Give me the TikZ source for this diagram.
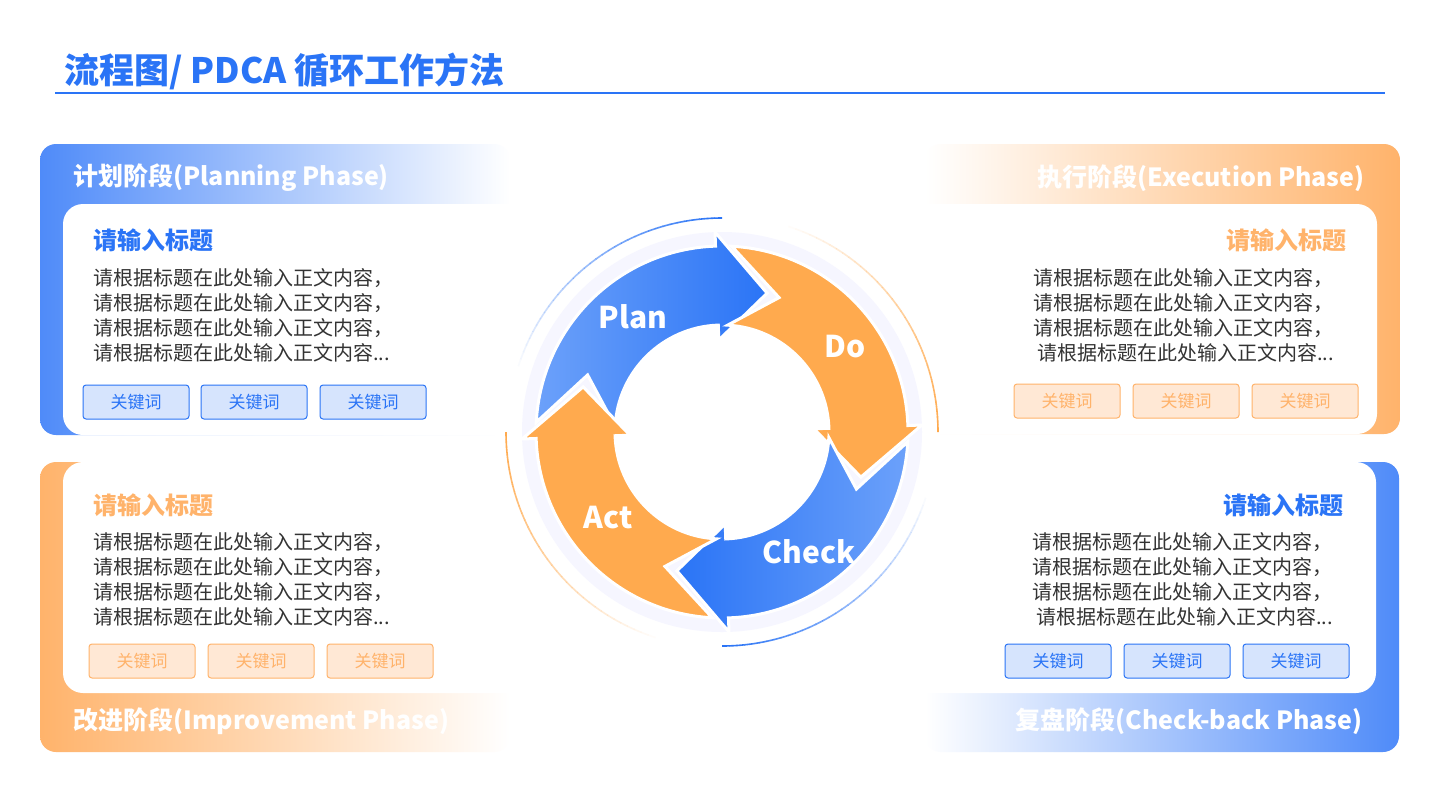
\documentclass[tikz,border=0pt]{standalone}
\usepackage{fontspec}
\setmainfont{Noto Sans CJK SC}
\definecolor{bl}{HTML}{2A74F6}
\definecolor{blL}{HTML}{6CA1FA}
\definecolor{blP}{HTML}{4F8BF9}
\definecolor{or}{HTML}{FFAA4E}
\definecolor{orP}{HTML}{FFB36B}
\definecolor{txt}{HTML}{333333}
\definecolor{kwB}{HTML}{D6E4FD}
\definecolor{kwO}{HTML}{FFE8D5}
\begin{document}
\begin{tikzpicture}[x=0.5pt,y=-0.5pt,
  hdr/.style={font=\fontsize{12.5}{14}\selectfont\bfseries,text=white,inner sep=0pt},
  ttl/.style={font=\fontsize{12}{14}\selectfont\bfseries,inner sep=0pt},
  body/.style={font=\fontsize{10}{12.5}\selectfont,text=txt,inner sep=0pt,anchor=west},
  kwb/.style={draw=bl,fill=kwB,text=bl,rounded corners=1.5pt,minimum width=53pt,minimum height=17pt,inner sep=0pt,font=\fontsize{8.5}{10}\selectfont,line width=0.5pt},
  kwo/.style={draw=orP,fill=kwO,text=orP,rounded corners=1.5pt,minimum width=53pt,minimum height=17pt,inner sep=0pt,font=\fontsize{8.5}{10}\selectfont,line width=0.5pt},
  lbl/.style={font=\fontsize{15}{17}\selectfont\bfseries,text=white,inner sep=0pt},
  arrw/.style={draw=white,line width=1.5pt,line join=miter}]
\useasboundingbox (0,0) rectangle (1440,810);
\fill[white] (0,0) rectangle (1440,810);
% title
\node[anchor=west,inner sep=0pt,text=bl,font=\fontsize{17.5}{20}\selectfont\bfseries] (title) at (64,71) {流程图/ PDCA 循环工作方法};
\draw[bl,line width=0.8pt] (55,93) -- (1385,93);
% panels
\shade[rounded corners=8pt,left color=blP,right color=white] (40,144) rectangle (510,435);
\fill[white,rounded corners=10pt] (63,204) rectangle (560,435);
\shade[rounded corners=8pt,left color=white,right color=orP] (925,144) rectangle (1400,434);
\fill[white,rounded corners=10pt] (880,204) rectangle (1377,434);
\shade[rounded corners=8pt,left color=orP,right color=white] (40,462) rectangle (510,752);
\fill[white,rounded corners=10pt] (63,462) rectangle (560,693);
\shade[rounded corners=8pt,left color=white,right color=blP] (925,462) rectangle (1399,752);
\fill[white,rounded corners=10pt] (880,462) rectangle (1376,693);
% headers
\node[hdr,anchor=west] (h1) at (73,178) {计划阶段(Planning Phase)};
\node[hdr,anchor=east] (h2) at (1365,178) {执行阶段(Execution Phase)};
\node[hdr,anchor=west] (h3) at (73,721) {改进阶段(Improvement Phase)};
\node[hdr,anchor=east] (h4) at (1363,721) {复盘阶段(Check-back Phase)};
% titles
\node[ttl,text=bl,anchor=west] (t1) at (93,240) {请输入标题};
\node[ttl,text=orP,anchor=east] (t2) at (1347,240) {请输入标题};
\node[ttl,text=orP,anchor=west] (t3) at (93,505) {请输入标题};
\node[ttl,text=bl,anchor=east] (t4) at (1344,505) {请输入标题};
% body
\foreach \i/\y in {1/278,2/303,3/328}{
  \node[body] (a\i) at (93,\y) {请根据标题在此处输入正文内容，};
  \node[body] (b\i) at (1033,\y) {请根据标题在此处输入正文内容，};}
\node[body] (a4) at (93,353) {请根据标题在此处输入正文内容...};
\node[body] (b4) at (1037,353) {请根据标题在此处输入正文内容...};
\foreach \i/\y in {1/542,2/567,3/592}{
  \node[body] (c\i) at (93,\y) {请根据标题在此处输入正文内容，};
  \node[body] (d\i) at (1032,\y) {请根据标题在此处输入正文内容，};}
\node[body] (c4) at (93,617) {请根据标题在此处输入正文内容...};
\node[body] (d4) at (1036,617) {请根据标题在此处输入正文内容...};
% keywords
\foreach \x [count=\k] in {136,254,373}{\node[kwb] (k1\k) at (\x,402) {关键词};}
\foreach \x [count=\k] in {1067,1186,1305}{\node[kwo] (k2\k) at (\x,401) {关键词};}
\foreach \x [count=\k] in {142,261,380}{\node[kwo] (k3\k) at (\x,661) {关键词};}
\foreach \x [count=\k] in {1058,1177,1296}{\node[kwb] (k4\k) at (\x,661) {关键词};}
% cycle
\begin{scope}[shift={(722,432)},y=0.5pt]
  \foreach \a in {0,...,35}{
    \pgfmathsetmacro\op{1-\a/36}
    \pgfmathsetmacro\s{90+2*\a}
    \draw[bl,line width=0.8pt,opacity=\op] (\s:214) arc[start angle=\s,end angle=\s+2.1,radius=214];
    \pgfmathsetmacro\s{270+2*\a}
    \draw[bl,line width=0.8pt,opacity=\op] (\s:214) arc[start angle=\s,end angle=\s+2.1,radius=214];
    \pgfmathsetmacro\s{0+2*\a}
    \draw[or,line width=0.8pt,opacity=\op] (\s:216) arc[start angle=\s,end angle=\s+2.1,radius=216];
    \pgfmathsetmacro\s{180+2*\a}
    \draw[or,line width=0.8pt,opacity=\op] (\s:216) arc[start angle=\s,end angle=\s+2.1,radius=216];
  }
  \fill[blue!6,opacity=0.6] (0,0) circle (200);
  \fill[white] (0,0) circle (112);
  \path[arrw,left color=blL,right color=bl] (177:186) arc[start angle=177,end angle=92,radius=186] -- (92:200) -- (72:146) -- (92:92) -- (92:107) arc[start angle=92,end angle=177,radius=107] -- (157:146) -- cycle;
  \path[arrw,fill=or] (87:186) arc[start angle=87,end angle=2,radius=186] -- (2:200) -- (-18:146) -- (2:92) -- (2:107) arc[start angle=2,end angle=87,radius=107] -- (67:146) -- cycle;
  \path[arrw,left color=bl,right color=blL] (-3:186) arc[start angle=-3,end angle=-88,radius=186] -- (-88:200) -- (-108:146) -- (-88:92) -- (-88:107) arc[start angle=-88,end angle=-3,radius=107] -- (-23:146) -- cycle;
  \path[arrw,fill=or] (-93:186) arc[start angle=-93,end angle=-178,radius=186] -- (-178:200) -- (-198:146) -- (-178:92) -- (-178:107) arc[start angle=-178,end angle=-93,radius=107] -- (-113:146) -- cycle;
  \node[lbl] (plan) at (-89,115) {Plan};
  \node[lbl] (do) at (123,85) {Do};
  \node[lbl] (check) at (87,-120) {Check};
  \node[lbl] (act) at (-114,-86) {Act};
\end{scope}
\end{tikzpicture}
\end{document}
